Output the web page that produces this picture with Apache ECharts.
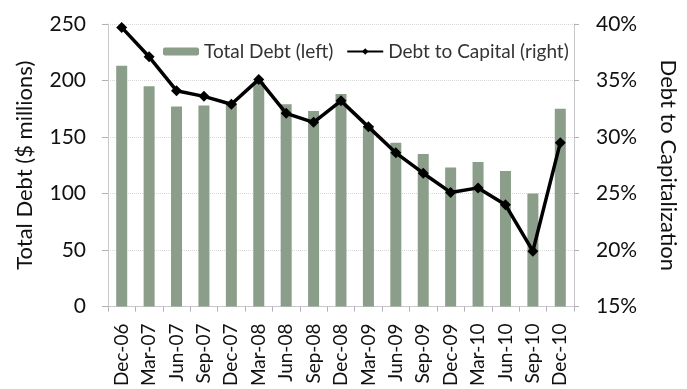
<!DOCTYPE html>
<html>
<head>
<meta charset="utf-8">
<script src="https://cdn.jsdelivr.net/npm/echarts@6/dist/echarts.min.js"></script>
<style>html,body{margin:0;padding:0;background:#fff;}#c{width:687px;height:389px;}</style>
</head>
<body>
<div id="c"></div>
<script>
const categories = ["Dec-06","Mar-07","Jun-07","Sep-07","Dec-07","Mar-08","Jun-08","Sep-08","Dec-08","Mar-09","Jun-09","Sep-09","Dec-09","Mar-10","Jun-10","Sep-10","Dec-10"];
const totalDebt = [213,195,177,178,180,199,179,173,188,160,145,135,123,128,120,100,175];
const debtToCapital = [39.7,37.1,34.1,33.6,32.9,35.1,32.1,31.3,33.2,30.9,28.6,26.8,25.1,25.5,24.0,19.9,29.5];
const leftTicks = [0,50,100,150,200,250];
const rightTicks = [15,20,25,30,35,40];

const FONT = 'Lato';
const chart = echarts.init(document.getElementById('c'));
chart.setOption({
  animation:false,
  backgroundColor:'#fff',
  textStyle:{fontFamily:FONT,color:'#111'},
  legend:{
    left:160, top:40, itemWidth:36, itemHeight:8, itemGap:13,
    backgroundColor:'#fff', padding:[2,3],
    textStyle:{fontFamily:FONT,fontSize:19,color:'#333'},
    data:['Total Debt (left)','Debt to Capital (right)']
  },
  grid:{left:108,right:108,top:24,bottom:82},
  xAxis:{
    type:'category', data:categories,
    axisLine:{lineStyle:{color:'#c8c8cc'}},
    axisTick:{show:true,length:5,lineStyle:{color:'#b0b0b5'}},
    axisLabel:{rotate:90,fontSize:19,color:'#111',margin:17,fontFamily:FONT}
  },
  yAxis:[{
    type:'value', min:leftTicks[0], max:leftTicks[leftTicks.length-1], interval:50,
    name:'Total Debt ($ millions)', nameLocation:'middle', nameGap:72,
    nameTextStyle:{fontSize:22,color:'#111',fontFamily:FONT},
    axisLine:{show:true,lineStyle:{color:'#c8c8cc'}},
    axisTick:{show:true,length:6,lineStyle:{color:'#b0b0b5'}},
    axisLabel:{fontSize:21,color:'#111',margin:22,fontFamily:FONT},
    splitLine:{show:true,lineStyle:{color:'#d8d8d8',type:'dotted'}}
  },{
    type:'value', min:rightTicks[0], max:rightTicks[rightTicks.length-1], interval:5,
    name:'Debt to Capitalization', nameLocation:'middle', nameGap:83, nameRotate:-90,
    nameTextStyle:{fontSize:22,color:'#111',fontFamily:FONT},
    axisLine:{show:true,lineStyle:{color:'#c8c8cc'}},
    axisTick:{show:true,length:5,lineStyle:{color:'#b0b0b5'}},
    axisLabel:{fontSize:21,color:'#111',margin:22,fontFamily:FONT,formatter:'{value}%'},
    splitLine:{show:false}
  }],
  series:[{
    name:'Total Debt (left)', type:'bar', data:totalDebt, yAxisIndex:0,
    barWidth:11, itemStyle:{color:'#8b9e89'}
  },{
    name:'Debt to Capital (right)', type:'line', data:debtToCapital, yAxisIndex:1,
    symbol:'diamond', symbolSize:11, lineStyle:{color:'#000',width:3.5},
    itemStyle:{color:'#000'}, z:5
  }]
});
</script>
</body>
</html>
